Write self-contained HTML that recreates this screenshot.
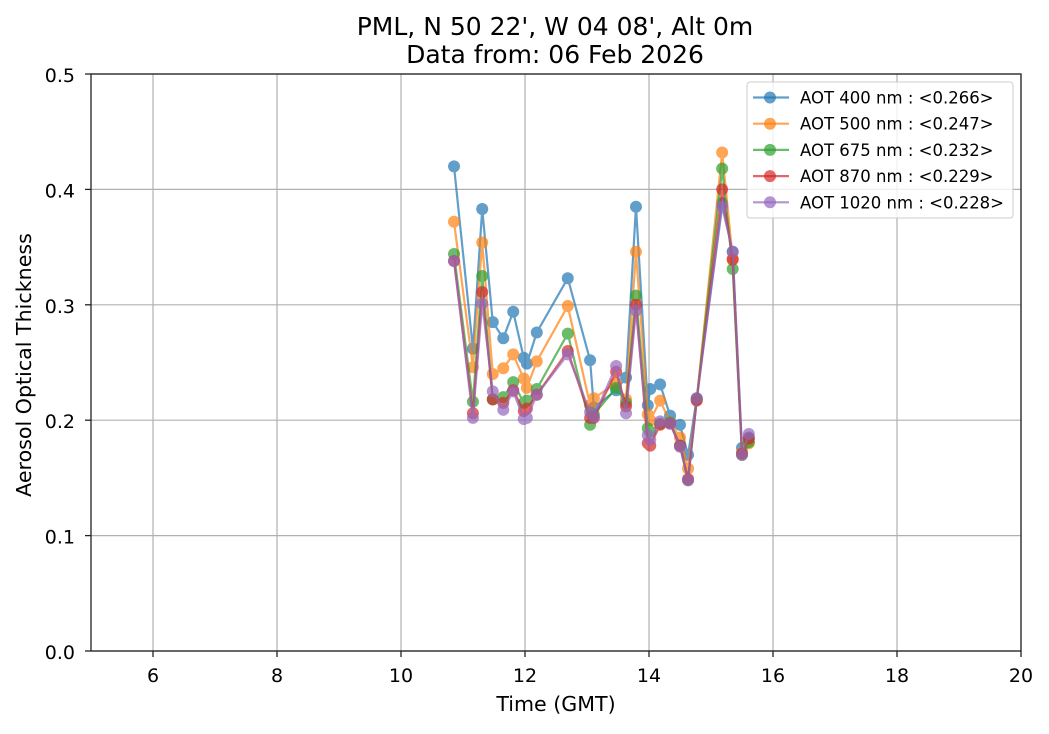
<!DOCTYPE html>
<html><head><meta charset="utf-8"><style>
body{margin:0;background:#fff;font-family:"Liberation Sans","DejaVu Sans",sans-serif}
</style></head><body>
<svg id="chart" width="1049" height="729" xmlns="http://www.w3.org/2000/svg" font-family="DejaVu Sans, Liberation Sans, sans-serif">
<rect width="1049" height="729" fill="#fff"/>
<g id="grid"></g>
<g id="series"></g>
<rect x="91" y="74" width="930" height="577" fill="none" stroke="#222" stroke-width="1.3"/>
<g id="ticks" font-size="19" fill="#000"></g>
<text x="555" y="35" text-anchor="middle" font-size="25">PML, N 50 22', W 04 08', Alt 0m</text>
<text x="555" y="63" text-anchor="middle" font-size="25">Data from: 06 Feb 2026</text>
<text x="556" y="711" text-anchor="middle" font-size="20.6">Time (GMT)</text>
<text transform="translate(31,365) rotate(-90)" text-anchor="middle" font-size="20.6">Aerosol Optical Thickness</text>
<g id="legend"></g>
</svg>
<script>
const times=[10.855,11.16,11.31,11.48,11.65,11.81,11.98,12.03,12.19,12.69,13.05,13.11,13.47,13.63,13.79,13.98,14.02,14.18,14.34,14.50,14.63,14.77,15.18,15.35,15.50,15.61];
const aot400=[0.420,0.262,0.383,0.285,0.271,0.294,0.254,0.249,0.276,0.323,0.252,0.211,0.226,0.237,0.385,0.213,0.227,0.231,0.204,0.196,0.170,0.219,0.388,0.346,0.176,0.185];
const aot500=[0.372,0.246,0.354,0.240,0.245,0.257,0.236,0.228,0.251,0.299,0.213,0.219,0.232,0.218,0.346,0.205,0.200,0.217,0.198,0.185,0.158,0.218,0.432,0.340,0.172,0.180];
const aot675=[0.344,0.216,0.325,0.218,0.220,0.233,0.215,0.217,0.227,0.275,0.196,0.205,0.228,0.215,0.308,0.193,0.190,0.197,0.198,0.178,0.148,0.218,0.418,0.331,0.170,0.181];
const aot870=[0.338,0.206,0.311,0.218,0.215,0.226,0.208,0.210,0.222,0.260,0.202,0.202,0.242,0.212,0.300,0.180,0.178,0.196,0.197,0.178,0.149,0.217,0.400,0.339,0.171,0.184];
const aot1020=[0.338,0.202,0.301,0.225,0.209,0.225,0.201,0.202,0.222,0.257,0.207,0.203,0.247,0.206,0.295,0.187,0.183,0.199,0.197,0.177,0.148,0.219,0.385,0.346,0.170,0.188];
const seriesLabels=["AOT 400 nm : <0.266>","AOT 500 nm : <0.247>","AOT 675 nm : <0.232>","AOT 870 nm : <0.229>","AOT 1020 nm : <0.228>"];
const xTicks=[6,8,10,12,14,16,18,20];
const yTicks=[0.0,0.1,0.2,0.3,0.4,0.5];
const colors=["#1f77b4","#ff7f0e","#2ca02c","#d62728","#9467bd"];
const NS="http://www.w3.org/2000/svg";
const X0=91,X1=1021,Y0=651,Y1=74;
const xs=v=>X0+(v-5)/(20-5)*(X1-X0);
const ys=v=>Y0-(v-0)/(0.5-0)*(Y0-Y1);
function mk(tag,attrs,parent){const e=document.createElementNS(NS,tag);for(const k in attrs)e.setAttribute(k,attrs[k]);parent.appendChild(e);return e;}
const grid=document.getElementById('grid'),ticks=document.getElementById('ticks');
xTicks.forEach(t=>{const x=xs(t);
 const g=mk('line',{x1:x,x2:x,y1:Y1,y2:Y0,stroke:'#b0b0b0','stroke-width':1.2},grid);
 
 
 mk('line',{x1:x,x2:x,y1:Y0,y2:Y0+6,stroke:'#222','stroke-width':1.3},ticks);
 const l=mk('text',{x:x,y:Y0+31,'text-anchor':'middle'},ticks);l.textContent=t;
 
 
});
yTicks.forEach(t=>{const y=ys(t);
 const g=mk('line',{x1:X0,x2:X1,y1:y,y2:y,stroke:'#b0b0b0','stroke-width':1.2},grid);
 
 
 mk('line',{x1:X0-6,x2:X0,y1:y,y2:y,stroke:'#222','stroke-width':1.3},ticks);
 const l=mk('text',{x:X0-16,y:y+8,'text-anchor':'end'},ticks);l.textContent=t.toFixed(1);
 
 
});
const sg=document.getElementById('series');
[aot400,aot500,aot675,aot870,aot1020].forEach((vals,i)=>{
 const g=mk('g',{opacity:0.7},sg);
 
 
 const pts=vals.map((v,j)=>xs(times[j])+','+ys(v)).join(' ');
 const pl=mk('polyline',{points:pts,fill:'none',stroke:colors[i],'stroke-width':2.2},g);
 
 
 vals.forEach((v,j)=>{const c=mk('circle',{cx:xs(times[j]),cy:ys(v),r:6,fill:colors[i]},g);
  
  });
});
const lg=document.getElementById('legend');
const box=mk('rect',{x:747,y:82,width:266,height:136,rx:3,fill:'#fff','fill-opacity':0.8,stroke:'#ccc'},lg);


seriesLabels.forEach((s,i)=>{const y=97.5+i*26.2;
 const g=mk('g',{},lg);
 
 
 mk('line',{x1:753,x2:789,y1:y,y2:y,stroke:colors[i],'stroke-width':2.2,opacity:0.7},g);
 mk('circle',{cx:770,cy:y,r:6,fill:colors[i],opacity:0.7},g);
 const t=mk('text',{x:800,y:y+6,'font-size':16.5},g);t.textContent=s;
});
</script>
</body></html>
